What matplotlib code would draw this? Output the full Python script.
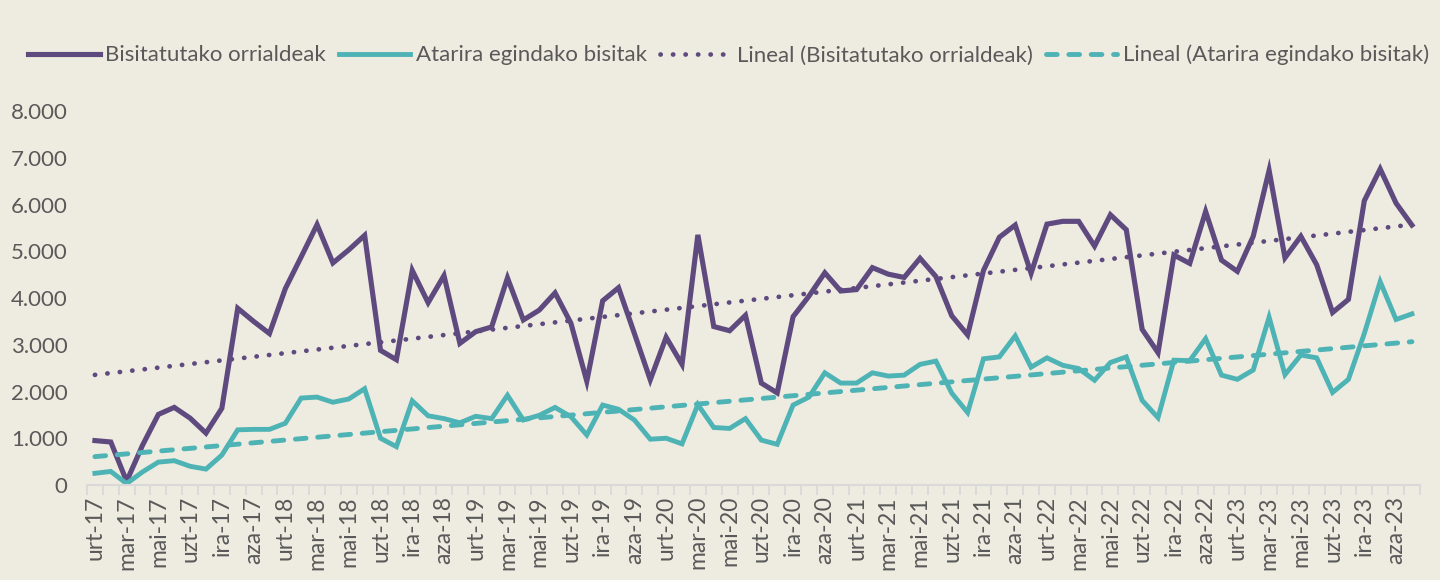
import numpy as np
import matplotlib
matplotlib.use('Agg')
import matplotlib.pyplot as plt
from matplotlib.ticker import FuncFormatter

plt.rcParams['font.family'] = ['Lato', 'DejaVu Sans']

# monthly values, urt-17 .. abe-23
months = ['urt', 'ots', 'mar', 'api', 'mai', 'eka', 'uzt', 'abu', 'ira', 'urr', 'aza', 'abe']
years = ['17', '18', '19', '20', '21', '22', '23']
labels = [f'{m}-{y}' for y in years for m in months]

orrialdeak = [950, 920, 80, 850, 1510, 1660, 1430, 1110, 1640, 3780, 3500, 3240,
              4200, 4880, 5570, 4750, 5030, 5340, 2880, 2680, 4590, 3900, 4480, 3030,
              3280, 3380, 4430, 3530, 3740, 4110, 3460, 2220, 3940, 4220, 3240, 2250,
              3160, 2580, 5350, 3390, 3300, 3630, 2180, 1970, 3600, 4040, 4540, 4150,
              4180, 4650, 4510, 4440, 4850, 4460, 3620, 3210, 4590, 5300, 5560, 4530,
              5580, 5640, 5640, 5110, 5780, 5460, 3330, 2830, 4920, 4740, 5850, 4810,
              4570, 5320, 6730, 4860, 5320, 4710, 3690, 3970, 6080, 6760, 6030, 5560]

bisitak = [250, 290, 30, 280, 490, 520, 400, 340, 640, 1180, 1190, 1190,
           1320, 1860, 1880, 1770, 1840, 2060, 1000, 820, 1800, 1480, 1420, 1330,
           1470, 1420, 1920, 1390, 1490, 1660, 1460, 1070, 1710, 1620, 1390, 980,
           1000, 880, 1720, 1230, 1210, 1420, 960, 870, 1710, 1880, 2400, 2180,
           2180, 2400, 2330, 2350, 2580, 2650, 1965, 1550, 2700, 2740, 3190, 2520,
           2720, 2560, 2490, 2240, 2620, 2740, 1810, 1440, 2670, 2660, 3130, 2350,
           2260, 2460, 3590, 2360, 2780, 2720, 1980, 2260, 3240, 4350, 3540, 3660]

purple = '#5E4A7E'
teal = '#4DB3B5'
bg = '#EEEBE0'
txt = '#595959'

x = np.arange(len(labels))
# linear trendlines (Excel "Lineal")
p1 = np.polyfit(x, orrialdeak, 1)
p2 = np.polyfit(x, bisitak, 1)

fig = plt.figure(figsize=(14.4, 5.8), dpi=100, facecolor=bg)
ax = fig.add_axes([0.0604, 0.1638, 0.9256, 0.6448], facecolor=bg)

ax.plot(x, orrialdeak, color=purple, lw=3.7, solid_joinstyle='miter', label='Bisitatutako orrialdeak')
ax.plot(x, bisitak, color=teal, lw=3.5, solid_joinstyle='miter', label='Atarira egindako bisitak')
ax.plot(x, np.polyval(p1, x), color=purple, lw=3.4, linestyle=(0, (0.05, 2.6)),
        dash_capstyle='round', label='Lineal (Bisitatutako orrialdeak)')
ax.plot(x, np.polyval(p2, x), color=teal, lw=3.5, linestyle=(0, (2.2, 2.4)),
        dash_capstyle='round', label='Lineal (Atarira egindako bisitak)')

ax.set_xlim(-0.5, len(labels) - 0.5)
ax.set_ylim(0, 8000)
ax.set_yticks(range(0, 8001, 1000))
ax.yaxis.set_major_formatter(FuncFormatter(lambda v, p: f'{int(v):,}'.replace(',', '.')))

ax.set_xticks(x[::2])
ax.set_xticklabels(labels[::2], rotation=90)
ax.set_xticks(np.arange(-0.5, len(labels), 1), minor=True)
ax.tick_params(axis='x', which='major', length=0, pad=8, labelsize=16.5, labelcolor=txt)
ax.tick_params(axis='x', which='minor', length=7, width=1.3, color='#D9D9D9')
ax.tick_params(axis='y', length=0, pad=14, labelsize=16, labelcolor=txt)

for s in ['top', 'right', 'left']:
    ax.spines[s].set_visible(False)
ax.spines['bottom'].set_color('#D9D9D9')
ax.spines['bottom'].set_linewidth(1.5)

leg = fig.legend(loc='center', bbox_to_anchor=(0.506, 0.905), ncol=4, frameon=False,
                 fontsize=16, handlelength=3.2, handletextpad=0.25, columnspacing=0.6,
                 labelcolor=txt)

fig.savefig('out.png', dpi=100, facecolor=bg)
